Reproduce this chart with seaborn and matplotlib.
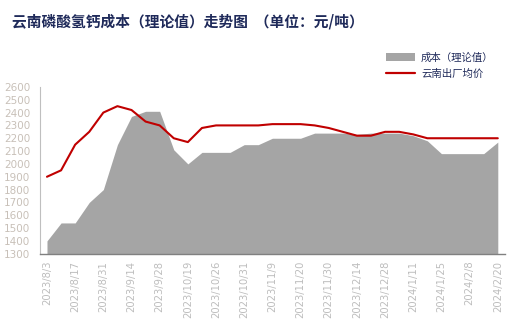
import matplotlib
matplotlib.use("Agg")
import matplotlib.pyplot as plt
import seaborn as sns
import pandas as pd
from matplotlib.patches import Patch
from matplotlib.lines import Line2D

dates = ["2023/8/3", "2023/8/10", "2023/8/17", "2023/8/24", "2023/8/31", "2023/9/7",
         "2023/9/14", "2023/9/21", "2023/9/28", "2023/10/12", "2023/10/19", "2023/10/24",
         "2023/10/26", "2023/10/27", "2023/10/31", "2023/11/2", "2023/11/9", "2023/11/16",
         "2023/11/20", "2023/11/23", "2023/11/30", "2023/12/7", "2023/12/14", "2023/12/21",
         "2023/12/28", "2024/1/4", "2024/1/11", "2024/1/18", "2024/1/25", "2024/2/1",
         "2024/2/8", "2024/2/15", "2024/2/20"]
cost = [1400, 1540, 1540, 1700, 1800, 2150, 2370, 2410, 2410, 2110, 2000, 2090,
        2090, 2090, 2150, 2150, 2200, 2200, 2200, 2240, 2240, 2240, 2230, 2240,
        2240, 2240, 2220, 2180, 2080, 2080, 2080, 2080, 2170]
price = [1900, 1950, 2150, 2250, 2400, 2450, 2420, 2330, 2300, 2200, 2170, 2280,
         2300, 2300, 2300, 2300, 2310, 2310, 2310, 2300, 2280, 2250, 2220, 2220,
         2250, 2250, 2230, 2200, 2200, 2200, 2200, 2200, 2200]
yticks = list(range(1300, 2601, 100))

sns.set_theme(style="white")
plt.rcParams['font.family'] = ['Noto Sans CJK SC', 'DejaVu Sans']

df = pd.DataFrame({"x": range(len(dates)), "date": dates, "cost": cost, "price": price})

fig = plt.figure(figsize=(5.12, 3.33), dpi=100)
ax = fig.add_axes([0.078, 0.238, 0.908, 0.501])

ax.fill_between(df["x"], 1300, df["cost"], color="#A5A5A5", linewidth=0, zorder=1)
sns.lineplot(data=df, x="x", y="price", ax=ax, color="#C00000", linewidth=1.5, zorder=3)

ax.set_xlim(-0.5, len(dates) - 0.5)
ax.set_ylim(1300, 2600)
ax.set_yticks(yticks)
ax.set_yticklabels([str(v) for v in yticks], fontsize=7.5, color="#C8C0B8", family="DejaVu Sans")

ax.set_xticks(list(range(0, len(dates), 2)))
ax.set_xticklabels(dates[::2], rotation=90, fontsize=7.2, color="#BDBDBD", family="DejaVu Sans")
ax.set_xticks([i - 0.5 for i in range(len(dates) + 1)], minor=True)
ax.tick_params(axis="x", which="major", length=0, pad=5)
ax.tick_params(axis="x", which="minor", length=4, width=0.8, color="#808080", direction="out")
ax.tick_params(axis="y", length=4, width=0.8, color="#B0B0B0", direction="out", pad=3)
ax.set_xlabel("")
ax.set_ylabel("")

for s in ["top", "right"]:
    ax.spines[s].set_visible(False)
ax.spines["left"].set_color("#BFBFBF")
ax.spines["bottom"].set_color("#808080")
ax.spines["left"].set_linewidth(0.8)
ax.spines["bottom"].set_linewidth(1.0)

fig.text(0.023, 0.935, "云南磷酸氢钙成本（理论值）走势图  （单位：元/吨）", fontsize=10.6,
         fontweight="bold", color="#1F2A5A", va="center", ha="left")

handles = [Patch(facecolor="#A5A5A5", edgecolor="none"),
           Line2D([0], [0], color="#C00000", linewidth=1.6)]
leg = fig.legend(handles, ["成本（理论值）", "云南出厂均价"], loc="upper left",
                 bbox_to_anchor=(0.745, 0.855), frameon=False, fontsize=7.5,
                 handlelength=2.8, handleheight=0.9, labelspacing=0.6, handletextpad=0.6,
                 borderaxespad=0)
for t in leg.get_texts():
    t.set_color("#1F2A5A")

fig.savefig("out.png", dpi=100)
